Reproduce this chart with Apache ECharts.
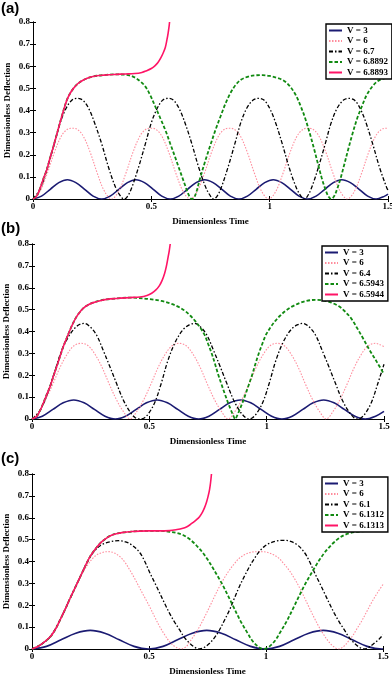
<!DOCTYPE html>
<html>
<head>
<meta charset="utf-8">
<script src="https://cdn.jsdelivr.net/npm/echarts@6/dist/echarts.min.js"></script>
<style>
html, body { margin: 0; padding: 0; background: #fff; }
#chart { width: 392px; height: 675px; }
</style>
</head>
<body>
<div id="chart"></div>
<script>
// ---- data: [time, deflection] ----

// panel (a)
const a3 = [[0,0],[0.036,0.013],[0.073,0.044],[0.109,0.074],[0.145,0.087],[0.181,0.074],[0.218,0.044],[0.254,0.013],[0.29,0],
  [0.326,0.013],[0.363,0.044],[0.399,0.074],[0.435,0.087],[0.471,0.074],[0.508,0.044],[0.544,0.013],[0.58,0],
  [0.616,0.013],[0.653,0.044],[0.689,0.074],[0.725,0.087],[0.761,0.074],[0.798,0.044],[0.834,0.013],[0.87,0],
  [0.906,0.013],[0.943,0.044],[0.979,0.074],[1.015,0.087],[1.051,0.074],[1.088,0.044],[1.124,0.013],[1.16,0],
  [1.196,0.013],[1.233,0.044],[1.269,0.074],[1.305,0.087],[1.341,0.074],[1.378,0.044],[1.414,0.013],[1.45,0],
  [1.486,0.013],[1.5,0.022]]
const a6 = [[0,0],[0.03,0.035],[0.06,0.115],[0.09,0.21],[0.12,0.285],[0.145,0.315],[0.166,0.32],[0.187,0.315],[0.212,0.285],[0.242,0.21],[0.272,0.115],[0.302,0.035],[0.332,0],
  [0.362,0.035],[0.392,0.115],[0.422,0.21],[0.452,0.285],[0.477,0.315],[0.498,0.32],[0.519,0.315],[0.544,0.285],[0.574,0.21],[0.604,0.115],[0.634,0.035],[0.664,0],
  [0.694,0.035],[0.724,0.115],[0.754,0.21],[0.784,0.285],[0.809,0.315],[0.83,0.32],[0.851,0.315],[0.876,0.285],[0.906,0.21],[0.936,0.115],[0.966,0.035],[0.996,0],
  [1.026,0.035],[1.056,0.115],[1.086,0.21],[1.116,0.285],[1.141,0.315],[1.162,0.32],[1.183,0.315],[1.208,0.285],[1.238,0.21],[1.268,0.115],[1.298,0.035],[1.328,0],
  [1.358,0.035],[1.388,0.115],[1.418,0.21],[1.448,0.285],[1.473,0.315],[1.494,0.32],[1.5,0.32]]
const a67 = [[0,0],[0.03,0.045],[0.06,0.14],[0.09,0.25],[0.115,0.345],[0.14,0.41],[0.165,0.447],[0.187,0.455],[0.21,0.447],[0.235,0.41],[0.26,0.345],[0.29,0.25],[0.32,0.14],[0.35,0.05],[0.372,0.01],[0.385,0],
  [0.398,0.01],[0.415,0.045],[0.445,0.14],[0.475,0.25],[0.5,0.345],[0.525,0.41],[0.548,0.447],[0.57,0.455],[0.593,0.447],[0.617,0.41],[0.642,0.345],[0.671,0.25],[0.701,0.14],[0.731,0.05],[0.752,0.01],[0.763,0],
  [0.776,0.01],[0.793,0.045],[0.823,0.14],[0.853,0.25],[0.878,0.345],[0.903,0.41],[0.93,0.447],[0.953,0.455],[0.976,0.447],[1.0,0.41],[1.025,0.345],[1.053,0.25],[1.083,0.14],[1.113,0.05],[1.134,0.01],[1.145,0],
  [1.158,0.01],[1.175,0.045],[1.205,0.14],[1.235,0.25],[1.26,0.345],[1.285,0.41],[1.312,0.447],[1.335,0.455],[1.358,0.447],[1.382,0.41],[1.407,0.345],[1.435,0.25],[1.465,0.14],[1.495,0.05],[1.5,0.04]]
const a68892 = [[0,0],[0.015,0.012],[0.03,0.048],[0.045,0.095],[0.058,0.131],[0.072,0.185],[0.086,0.236],[0.1,0.29],[0.114,0.345],[0.128,0.397],[0.143,0.447],[0.157,0.478],[0.171,0.5],[0.19,0.522],[0.213,0.538],[0.24,0.55],[0.27,0.557],[0.3,0.56],[0.34,0.563],[0.39,0.562],
  [0.41,0.558],[0.432,0.548],[0.455,0.53],[0.475,0.508],[0.495,0.47],[0.517,0.417],[0.538,0.365],[0.559,0.312],[0.58,0.25],[0.6,0.191],[0.615,0.145],[0.63,0.1],[0.645,0.055],[0.655,0.025],[0.665,0.005],[0.672,0],
  [0.68,0.005],[0.69,0.03],[0.705,0.09],[0.729,0.176],[0.75,0.245],[0.771,0.312],[0.793,0.375],[0.814,0.433],[0.835,0.48],[0.856,0.515],[0.88,0.54],[0.91,0.553],[0.94,0.559],[0.97,0.56],[1.0,0.556],[1.03,0.548],[1.06,0.535],[1.085,0.51],[1.11,0.47],[1.131,0.42],[1.15,0.365],[1.17,0.295],[1.188,0.225],[1.205,0.155],[1.22,0.095],[1.235,0.045],[1.248,0.012],[1.26,0],
  [1.272,0.012],[1.285,0.045],[1.3,0.095],[1.315,0.155],[1.332,0.225],[1.35,0.295],[1.37,0.365],[1.39,0.42],[1.41,0.47],[1.435,0.51],[1.46,0.535],[1.5,0.55]]
const a68893 = [[0,0],[0.015,0.012],[0.03,0.048],[0.045,0.095],[0.058,0.131],[0.072,0.185],[0.086,0.236],[0.1,0.29],[0.114,0.345],[0.128,0.397],[0.143,0.447],[0.157,0.478],[0.171,0.5],[0.19,0.522],[0.213,0.538],[0.24,0.55],[0.27,0.557],[0.3,0.56],[0.34,0.563],[0.39,0.565],
  [0.43,0.567],[0.46,0.572],[0.48,0.58],[0.5,0.59],[0.515,0.602],[0.528,0.617],[0.54,0.638],[0.55,0.66],[0.559,0.685],[0.566,0.72],[0.571,0.75],[0.575,0.78],[0.577,0.8]]

// panel (b)
const b3 = [[0,0],[0.044,0.013],[0.089,0.044],[0.133,0.074],[0.178,0.087],[0.222,0.074],[0.266,0.044],[0.311,0.013],[0.355,0],
  [0.399,0.013],[0.444,0.044],[0.488,0.074],[0.533,0.087],[0.577,0.074],[0.621,0.044],[0.666,0.013],[0.71,0],
  [0.754,0.013],[0.799,0.044],[0.843,0.074],[0.888,0.087],[0.932,0.074],[0.976,0.044],[1.021,0.013],[1.065,0],
  [1.109,0.013],[1.154,0.044],[1.198,0.074],[1.243,0.087],[1.287,0.074],[1.331,0.044],[1.376,0.013],[1.42,0],
  [1.464,0.013],[1.5,0.035]]
const b6 = [[0,0],[0.029,0.035],[0.059,0.09],[0.089,0.16],[0.119,0.235],[0.149,0.295],[0.179,0.335],[0.209,0.346],[0.239,0.335],[0.269,0.295],[0.299,0.235],[0.329,0.16],[0.359,0.09],[0.389,0.035],[0.418,0],
  [0.447,0.035],[0.477,0.09],[0.507,0.16],[0.537,0.235],[0.567,0.295],[0.597,0.335],[0.627,0.346],[0.657,0.335],[0.687,0.295],[0.717,0.235],[0.747,0.16],[0.777,0.09],[0.807,0.035],[0.836,0],
  [0.865,0.035],[0.895,0.09],[0.925,0.16],[0.955,0.235],[0.985,0.295],[1.015,0.335],[1.045,0.346],[1.075,0.335],[1.105,0.295],[1.135,0.235],[1.165,0.16],[1.195,0.09],[1.225,0.035],[1.254,0],
  [1.283,0.035],[1.313,0.09],[1.343,0.16],[1.373,0.235],[1.403,0.295],[1.433,0.335],[1.463,0.346],[1.493,0.335],[1.5,0.33]]
const b64 = [[0,0],[0.032,0.035],[0.062,0.105],[0.092,0.2],[0.122,0.3],[0.152,0.37],[0.182,0.415],[0.202,0.432],[0.222,0.437],[0.247,0.422],[0.275,0.384],[0.303,0.315],[0.332,0.239],[0.36,0.163],[0.389,0.087],[0.417,0.034],[0.44,0.006],[0.462,0],
  [0.48,0.006],[0.5,0.03],[0.525,0.08],[0.55,0.16],[0.58,0.27],[0.612,0.355],[0.645,0.41],[0.67,0.43],[0.692,0.437],[0.717,0.422],[0.745,0.384],[0.773,0.315],[0.802,0.239],[0.83,0.163],[0.859,0.087],[0.887,0.034],[0.91,0.006],[0.922,0],
  [0.94,0.006],[0.96,0.03],[0.985,0.08],[1.01,0.16],[1.04,0.27],[1.072,0.355],[1.105,0.41],[1.13,0.43],[1.155,0.437],[1.18,0.422],[1.208,0.384],[1.236,0.315],[1.265,0.239],[1.293,0.163],[1.322,0.087],[1.35,0.034],[1.372,0.006],[1.385,0],
  [1.403,0.006],[1.423,0.03],[1.448,0.08],[1.473,0.16],[1.5,0.25]]
const b65943 = [[0,0],[0.02,0.012],[0.035,0.04],[0.048,0.072],[0.062,0.11],[0.077,0.148],[0.091,0.195],[0.105,0.239],[0.119,0.285],[0.133,0.33],[0.148,0.37],[0.162,0.407],[0.176,0.44],[0.19,0.468],[0.205,0.49],[0.218,0.506],[0.24,0.522],[0.261,0.532],[0.29,0.541],[0.318,0.547],[0.36,0.551],[0.417,0.555],
  [0.45,0.553],[0.5,0.548],[0.55,0.54],[0.59,0.528],[0.62,0.515],[0.651,0.495],[0.675,0.472],[0.694,0.45],[0.715,0.42],[0.736,0.383],[0.75,0.345],[0.765,0.302],[0.779,0.255],[0.793,0.205],[0.807,0.16],[0.821,0.117],[0.835,0.075],[0.848,0.04],[0.858,0.015],[0.866,0],
  [0.874,0.015],[0.884,0.04],[0.897,0.075],[0.911,0.117],[0.925,0.16],[0.939,0.205],[0.953,0.255],[0.967,0.302],[0.982,0.345],[0.996,0.383],[1.017,0.42],[1.038,0.45],[1.057,0.472],[1.081,0.495],[1.11,0.515],[1.14,0.53],[1.17,0.54],[1.21,0.545],[1.25,0.54],[1.28,0.53],[1.31,0.514],[1.335,0.49],[1.36,0.46],[1.382,0.422],[1.41,0.37],[1.438,0.316],[1.47,0.26],[1.5,0.205]]
const b65944 = [[0,0],[0.02,0.012],[0.035,0.04],[0.048,0.072],[0.062,0.11],[0.077,0.148],[0.091,0.195],[0.105,0.239],[0.119,0.285],[0.133,0.33],[0.148,0.37],[0.162,0.407],[0.176,0.44],[0.19,0.468],[0.205,0.49],[0.218,0.506],[0.24,0.522],[0.261,0.532],[0.29,0.541],[0.318,0.547],[0.36,0.551],[0.417,0.555],
  [0.46,0.558],[0.49,0.565],[0.51,0.575],[0.528,0.59],[0.543,0.61],[0.555,0.635],[0.565,0.665],[0.573,0.7],[0.58,0.74],[0.585,0.77],[0.589,0.8]]

// panel (c)
const c3 = [[0,0],[0.062,0.012],[0.124,0.042],[0.187,0.072],[0.249,0.085],[0.311,0.072],[0.373,0.042],[0.436,0.012],[0.498,0],
  [0.56,0.012],[0.622,0.042],[0.685,0.072],[0.747,0.085],[0.809,0.072],[0.871,0.042],[0.934,0.012],[0.996,0],
  [1.058,0.012],[1.12,0.042],[1.183,0.072],[1.245,0.085],[1.307,0.072],[1.369,0.042],[1.432,0.012],[1.494,0],[1.5,0]]
const c6 = [[0,0],[0.035,0.018],[0.078,0.058],[0.12,0.133],[0.163,0.232],[0.2,0.315],[0.235,0.38],[0.27,0.425],[0.3,0.441],[0.326,0.445],[0.35,0.44],[0.376,0.422],[0.398,0.395],[0.418,0.361],[0.44,0.32],[0.461,0.277],[0.482,0.235],[0.503,0.193],[0.525,0.145],[0.546,0.102],[0.567,0.065],[0.588,0.033],[0.61,0.012],[0.638,0],
  [0.66,0.012],[0.674,0.033],[0.695,0.065],[0.716,0.102],[0.737,0.145],[0.759,0.193],[0.78,0.24],[0.801,0.285],[0.822,0.325],[0.844,0.361],[0.865,0.39],[0.886,0.415],[0.91,0.432],[0.94,0.443],[0.971,0.445],[1.0,0.443],[1.03,0.432],[1.055,0.415],[1.076,0.39],[1.098,0.361],[1.12,0.325],[1.141,0.285],[1.162,0.24],[1.183,0.193],[1.205,0.145],[1.226,0.102],[1.247,0.065],[1.268,0.033],[1.288,0.012],[1.31,0],
  [1.332,0.012],[1.35,0.033],[1.37,0.06],[1.39,0.095],[1.41,0.13],[1.43,0.17],[1.45,0.21],[1.475,0.255],[1.5,0.295]]
const c61 = [[0,0],[0.035,0.018],[0.078,0.056],[0.12,0.133],[0.163,0.232],[0.206,0.33],[0.248,0.42],[0.275,0.457],[0.3,0.478],[0.333,0.49],[0.37,0.495],[0.4,0.49],[0.43,0.473],[0.461,0.44],[0.482,0.4],[0.503,0.35],[0.525,0.302],[0.546,0.255],[0.567,0.208],[0.588,0.163],[0.61,0.122],[0.631,0.087],[0.652,0.052],[0.674,0.026],[0.695,0.008],[0.716,0],
  [0.737,0.008],[0.759,0.026],[0.78,0.052],[0.801,0.087],[0.822,0.13],[0.844,0.178],[0.865,0.232],[0.886,0.285],[0.908,0.333],[0.929,0.376],[0.95,0.413],[0.971,0.445],[0.992,0.468],[1.014,0.483],[1.045,0.494],[1.075,0.497],[1.105,0.492],[1.135,0.475],[1.165,0.44],[1.186,0.4],[1.207,0.35],[1.229,0.302],[1.25,0.255],[1.271,0.208],[1.292,0.163],[1.314,0.122],[1.335,0.087],[1.356,0.052],[1.378,0.026],[1.399,0.008],[1.42,0],
  [1.44,0.008],[1.462,0.026],[1.483,0.045],[1.5,0.065]]
const c61312 = [[0,0],[0.035,0.018],[0.078,0.056],[0.1,0.09],[0.12,0.133],[0.142,0.182],[0.163,0.232],[0.185,0.282],[0.206,0.33],[0.227,0.378],[0.248,0.422],[0.27,0.456],[0.291,0.483],[0.312,0.502],[0.333,0.517],[0.36,0.527],[0.39,0.533],[0.425,0.537],[0.461,0.539],[0.5,0.54],[0.54,0.54],
  [0.588,0.536],[0.62,0.53],[0.645,0.521],[0.67,0.505],[0.69,0.487],[0.71,0.465],[0.73,0.44],[0.75,0.41],[0.773,0.37],[0.795,0.33],[0.816,0.29],[0.838,0.243],[0.86,0.195],[0.89,0.13],[0.92,0.075],[0.94,0.04],[0.965,0.012],[0.99,0],
  [1.015,0.012],[1.04,0.04],[1.06,0.075],[1.09,0.13],[1.12,0.195],[1.142,0.243],[1.164,0.29],[1.185,0.33],[1.207,0.37],[1.23,0.41],[1.25,0.44],[1.27,0.465],[1.29,0.487],[1.31,0.505],[1.335,0.521],[1.36,0.53],[1.39,0.536],[1.44,0.54],[1.5,0.541]]
const c61313 = [[0,0],[0.035,0.018],[0.078,0.056],[0.1,0.09],[0.12,0.133],[0.142,0.182],[0.163,0.232],[0.185,0.282],[0.206,0.33],[0.227,0.378],[0.248,0.422],[0.27,0.456],[0.291,0.483],[0.312,0.502],[0.333,0.517],[0.36,0.527],[0.39,0.533],[0.425,0.537],[0.461,0.539],[0.5,0.54],[0.54,0.54],
  [0.588,0.541],[0.62,0.546],[0.645,0.552],[0.66,0.558],[0.674,0.567],[0.688,0.578],[0.702,0.59],[0.716,0.605],[0.728,0.625],[0.737,0.645],[0.746,0.672],[0.753,0.7],[0.759,0.73],[0.763,0.76],[0.767,0.8]]

const seriesNames = [
  ['V = 3', 'V = 6', 'V = 6.7', 'V = 6.8892', 'V = 6.8893'],
  ['V = 3', 'V = 6', 'V = 6.4', 'V = 6.5943', 'V = 6.5944'],
  ['V = 3', 'V = 6', 'V = 6.1', 'V = 6.1312', 'V = 6.1313']
]
const seriesData = [
  [a3, a6, a67, a68892, a68893],
  [b3, b6, b64, b65943, b65944],
  [c3, c6, c61, c61312, c61313]
]
const panelLabels = ['(a)', '(b)', '(c)']
const xName = 'Dimensionless Time'
const yName = 'Dimensionless Deflection'

// ---- layout / styling ----
const grids = [
  {left: 33, top: 22, width: 355, height: 177, outerBoundsMode: 'none'},
  {left: 32, top: 244, width: 352, height: 175, outerBoundsMode: 'none'},
  {left: 32, top: 474, width: 351, height: 175, outerBoundsMode: 'none'}
]
const legendPos = [{left: 326, top: 24}, {left: 322, top: 246}, {left: 322, top: 477}]
const labelPos = [{left: 1, top: 1}, {left: 1, top: 221}, {left: 1, top: 451}]

const lineStyles = [
  {color: '#1b1b72', width: 1.6, type: 'solid'},
  {color: '#ff8c9c', width: 1.1, type: [1.5, 1.5]},
  {color: '#000000', width: 1.3, type: [4, 2, 1.5, 2]},
  {color: '#118a11', width: 1.8, type: [3.5, 2]},
  {color: '#ff1466', width: 1.6, type: 'solid'}
]

const serif = '"Liberation Serif", "Times New Roman", serif'
const tickFont = {fontFamily: serif, fontWeight: 'bold', fontSize: 9, color: '#000'}

const xAxes = []
const yAxes = []
const series = []
const legends = []
const graphics = []

grids.forEach((g, i) => {
  // bottom + top x axes
  xAxes.push({
    type: 'value', gridIndex: i, min: 0, max: 1.5, interval: 0.5,
    name: xName, nameLocation: 'middle', nameGap: 18, nameMoveOverlap: false,
    nameTextStyle: {fontFamily: serif, fontWeight: 'bold', fontSize: 9, color: '#000'},
    axisLine: {lineStyle: {color: '#000', width: 1}},
    axisTick: {inside: true, length: 3, lineStyle: {color: '#000'}},
    axisLabel: {...tickFont, margin: 3, formatter: v => String(v)},
    splitLine: {show: false}
  })
  xAxes.push({
    type: 'value', gridIndex: i, position: 'top', min: 0, max: 1.5, interval: 0.5,
    axisLine: {lineStyle: {color: '#000', width: 1}},
    axisTick: {inside: true, length: 3, lineStyle: {color: '#000'}},
    axisLabel: {show: false},
    splitLine: {show: false}
  })
  // left + right y axes
  yAxes.push({
    type: 'value', gridIndex: i, min: 0, max: 0.8, interval: 0.1,
    name: yName, nameLocation: 'middle', nameGap: 21, nameMoveOverlap: false,
    nameTextStyle: {fontFamily: serif, fontWeight: 'bold', fontSize: 9, color: '#000'},
    axisLine: {show: true, lineStyle: {color: '#000', width: 1}},
    axisTick: {show: true, inside: true, length: 3, lineStyle: {color: '#000'}},
    axisLabel: {...tickFont, margin: 3, formatter: v => (v === 0 ? '0' : v.toFixed(1))},
    splitLine: {show: false}
  })
  yAxes.push({
    type: 'value', gridIndex: i, position: 'right', min: 0, max: 0.8, interval: 0.1,
    axisLine: {show: true, lineStyle: {color: '#000', width: 1}},
    axisTick: {show: true, inside: true, length: 3, lineStyle: {color: '#000'}},
    axisLabel: {show: false},
    splitLine: {show: false}
  })

  seriesData[i].forEach((d, k) => {
    series.push({
      type: 'line',
      name: seriesNames[i][k],
      xAxisIndex: i * 2,
      yAxisIndex: i * 2,
      data: d,
      symbol: 'none',
      smooth: 0.35,
      clip: true,
      color: lineStyles[k].color,
      lineStyle: {...lineStyles[k]},
      animation: false
    })
  })

  legends.push({
    ...legendPos[i],
    orient: 'vertical',
    data: seriesNames[i],
    selectedMode: false,
    itemWidth: 13,
    itemHeight: 9,
    itemGap: 1.5,
    padding: [2, 4, 2, 2],
    backgroundColor: '#fff',
    borderColor: '#000',
    borderWidth: 1.4,
    itemStyle: {opacity: 0, borderWidth: 0},
    textStyle: {fontFamily: serif, fontWeight: 'bold', fontSize: 9, color: '#000'}
  })

  graphics.push({
    type: 'text', ...labelPos[i],
    style: {text: panelLabels[i], font: 'bold 15px "Liberation Sans", Arial, sans-serif', fill: '#000'}
  })
})

const chart = echarts.init(document.getElementById('chart'), null, {renderer: 'canvas'})
chart.setOption({
  animation: false,
  backgroundColor: '#fff',
  grid: grids,
  xAxis: xAxes,
  yAxis: yAxes,
  legend: legends,
  series: series,
  graphic: graphics
})
</script>
</body>
</html>
